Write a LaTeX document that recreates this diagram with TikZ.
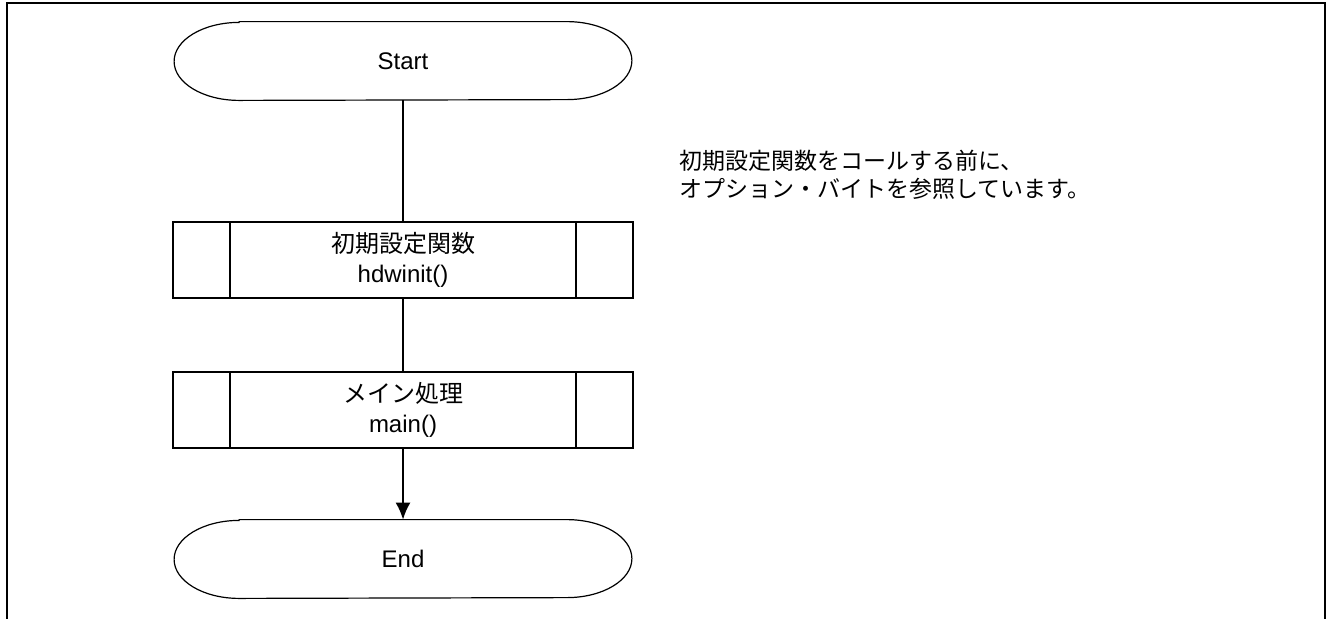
\documentclass[tikz,border=0pt]{standalone}
\usepackage{fontspec}
\setmainfont{Liberation Sans}
\newfontfamily\jpfont{Noto Sans CJK JP}
\usetikzlibrary{calc,arrows.meta}

\tikzset{
  term/.style={minimum width=228.5pt, minimum height=39pt, inner sep=0pt},
  subbox/.style={draw, line width=1pt, minimum width=230pt, minimum height=38pt,
    inner sep=0pt, align=center},
  flow/.style={line width=0.9pt},
}
% outline of a terminal with elliptic ends
\newcommand\termline[1]{%
  \draw[line width=0.6pt] ($(#1.north west)+(32.5pt,0)$) -- ($(#1.north east)+(-32.5pt,0)$)
    arc[start angle=90, end angle=-90, x radius=32.5pt, y radius=19.5pt]
    -- ($(#1.south west)+(32.5pt,0)$)
    arc[start angle=270, end angle=90, x radius=32.5pt, y radius=19.5pt] -- cycle;}

\begin{document}
\begin{tikzpicture}[x=0.5pt, y=0.5pt, font=\fontsize{12}{15}\selectfont]
        \useasboundingbox (0,0) rectangle (1327,-618);
        \draw[line width=1.25pt] (7,-625) -- (7,-3) -- (1325,-3) -- (1325,-625);

        \node[term] (start) at (403,-61) {Start};
        \node[subbox] (init) at (403,-260) {{\jpfont 初期設定関数}\\hdwinit()};
        \node[subbox] (proc) at (403,-410) {{\jpfont メイン処理}\\main()};
        \node[term] (end) at (403,-559) {End};
        \termline{start}
        \termline{end}

        \foreach \n in {init,proc} {
            \draw[line width=1pt] ($(\n.north west)+(29pt,0)$) -- ($(\n.south west)+(29pt,0)$);
            \draw[line width=1pt] ($(\n.north east)-(29pt,0)$) -- ($(\n.south east)-(29pt,0)$);
        }

        \draw[flow] (start) -- (init);
        \draw[flow] (init) -- (proc);
        \draw[flow, -{Latex[length=8.5pt, width=7.5pt]}] (proc) -- (end);

        \node[anchor=north west, align=left, font=\fontsize{11.5}{14}\jpfont] (note) at (672,-143)
            {初期設定関数をコールする前に、\\オプション・バイトを参照しています。};
\end{tikzpicture}
\end{document}
